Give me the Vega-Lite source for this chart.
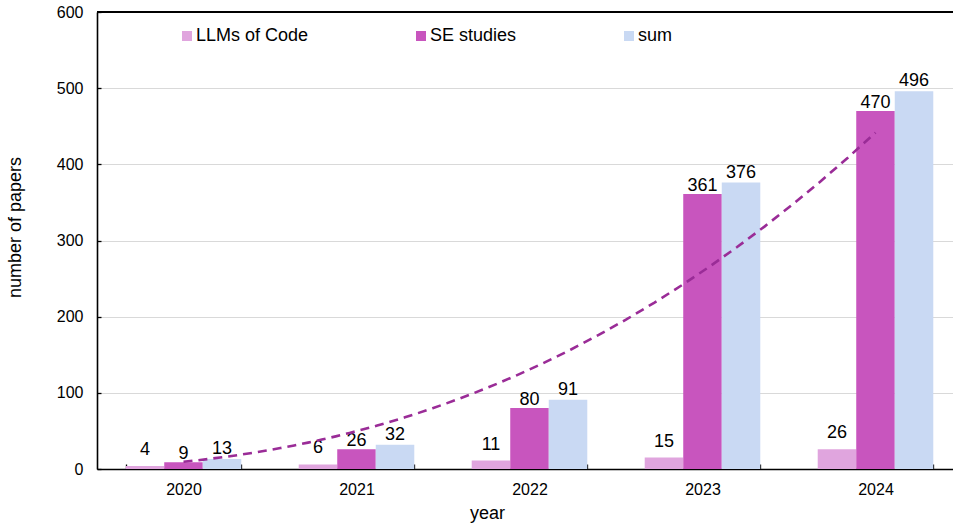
{
  "$schema": "https://vega.github.io/schema/vega-lite/v6.json",
  "width": 856,
  "height": 457,
  "autosize": {"type": "none"},
  "padding": {"left": 97, "top": 12, "right": 0, "bottom": 54},
  "config": {
    "view": {"stroke": null},
    "font": "Liberation Sans",
    "text": {"font": "Liberation Sans"}
  },
  "data": {
    "values": [
      {"year": "2020", "idx": 1, "series": "LLMs of Code", "value": 4},
      {"year": "2020", "idx": 1, "series": "SE studies", "value": 9},
      {"year": "2020", "idx": 1, "series": "sum", "value": 13},
      {"year": "2021", "idx": 2, "series": "LLMs of Code", "value": 6},
      {"year": "2021", "idx": 2, "series": "SE studies", "value": 26},
      {"year": "2021", "idx": 2, "series": "sum", "value": 32},
      {"year": "2022", "idx": 3, "series": "LLMs of Code", "value": 11},
      {"year": "2022", "idx": 3, "series": "SE studies", "value": 80},
      {"year": "2022", "idx": 3, "series": "sum", "value": 91},
      {"year": "2023", "idx": 4, "series": "LLMs of Code", "value": 15},
      {"year": "2023", "idx": 4, "series": "SE studies", "value": 361},
      {"year": "2023", "idx": 4, "series": "sum", "value": 376},
      {"year": "2024", "idx": 5, "series": "LLMs of Code", "value": 26},
      {"year": "2024", "idx": 5, "series": "SE studies", "value": 470},
      {"year": "2024", "idx": 5, "series": "sum", "value": 496}
    ]
  },
  "layer": [
    {
      "mark": {"type": "bar"},
      "encoding": {
        "x": {
          "field": "year",
          "type": "ordinal",
          "scale": {"range": [0, 865], "paddingInner": 0.332, "paddingOuter": 0.166},
          "axis": {
            "title": "year",
            "labelAngle": 0,
            "tickBand": "extent",
            "tickSize": -5,
            "tickColor": "#000",
            "tickWidth": 1.3,
            "domainColor": "#000",
            "domainWidth": 1.6,
            "labelFontSize": 16,
            "labelColor": "#000",
            "labelPadding": 17,
            "titleFontSize": 18,
            "titleFontWeight": "normal",
            "titleColor": "#000",
            "titleBaseline": "alphabetic",
            "titleX": 390,
            "titleY": 49,
            "grid": false
          }
        },
        "xOffset": {
          "field": "series",
          "sort": ["LLMs of Code", "SE studies", "sum"],
          "scale": {"paddingInner": 0, "paddingOuter": 0}
        },
        "y": {
          "field": "value",
          "type": "quantitative",
          "scale": {"domain": [0, 600]},
          "axis": {
            "title": "number of papers",
            "values": [0, 100, 200, 300, 400, 500, 600],
            "tickSize": -4,
            "tickColor": "#000",
            "tickWidth": 1.3,
            "domainColor": "#000",
            "domainWidth": 1.6,
            "labelFontSize": 16,
            "labelColor": "#000",
            "labelPadding": 18,
            "titleFontSize": 18,
            "titleFontWeight": "normal",
            "titleColor": "#000",
            "titlePadding": 32,
            "titleY": 215,
            "gridColor": "#D9D9D9",
            "gridWidth": 1.2
          }
        },
        "color": {
          "field": "series",
          "type": "nominal",
          "scale": {
            "domain": ["LLMs of Code", "SE studies", "sum"],
            "range": ["#E0A5DE", "#C855BE", "#C9D9F3"]
          },
          "legend": {
            "title": null,
            "orient": "none",
            "legendX": 81,
            "legendY": 15,
            "direction": "horizontal",
            "symbolType": "square",
            "symbolSize": 100,
            "symbolStrokeWidth": 0,
            "labelFontSize": 18,
            "labelColor": "#000",
            "labelOffset": 0,
            "columnPadding": 103,
            "padding": 0
          }
        }
      }
    },
    {
      "transform": [{"filter": "datum.series === 'LLMs of Code'"}],
      "mark": {"type": "text", "baseline": "alphabetic", "dy": -11, "fontSize": 18, "color": "#000"},
      "encoding": {
        "x": {"field": "year", "type": "ordinal", "scale": {"range": [0, 865], "paddingInner": 0.332, "paddingOuter": 0.166}, "axis": null},
        "xOffset": {"field": "series", "sort": ["LLMs of Code", "SE studies", "sum"], "scale": {"domain": ["LLMs of Code", "SE studies", "sum"], "paddingInner": 0, "paddingOuter": 0}},
        "y": {"field": "value", "type": "quantitative"},
        "text": {"field": "value", "type": "quantitative"}
      }
    },
    {
      "transform": [{"filter": "datum.series === 'SE studies'"}],
      "mark": {"type": "text", "baseline": "alphabetic", "dy": -3, "fontSize": 18, "color": "#000"},
      "encoding": {
        "x": {"field": "year", "type": "ordinal", "scale": {"range": [0, 865], "paddingInner": 0.332, "paddingOuter": 0.166}, "axis": null},
        "xOffset": {"field": "series", "sort": ["LLMs of Code", "SE studies", "sum"], "scale": {"domain": ["LLMs of Code", "SE studies", "sum"], "paddingInner": 0, "paddingOuter": 0}},
        "y": {"field": "value", "type": "quantitative"},
        "text": {"field": "value", "type": "quantitative"}
      }
    },
    {
      "transform": [{"filter": "datum.series === 'sum'"}],
      "mark": {"type": "text", "baseline": "alphabetic", "dy": -5, "fontSize": 18, "color": "#000"},
      "encoding": {
        "x": {"field": "year", "type": "ordinal", "scale": {"range": [0, 865], "paddingInner": 0.332, "paddingOuter": 0.166}, "axis": null},
        "xOffset": {"field": "series", "sort": ["LLMs of Code", "SE studies", "sum"], "scale": {"domain": ["LLMs of Code", "SE studies", "sum"], "paddingInner": 0, "paddingOuter": 0}},
        "y": {"field": "value", "type": "quantitative"},
        "text": {"field": "value", "type": "quantitative"}
      }
    },
    {
      "mark": {"type": "rule", "color": "#000", "strokeWidth": 1.6},
      "encoding": {
        "y": {"datum": 600, "type": "quantitative"}
      }
    },
    {
      "transform": [
        {"filter": "datum.series === 'sum'"},
        {"regression": "value", "on": "idx", "method": "pow"}
      ],
      "mark": {"type": "line", "strokeDash": [9, 6], "color": "#9A2C97", "strokeWidth": 2.6},
      "encoding": {
        "x": {
          "field": "idx",
          "type": "quantitative",
          "scale": {"domain": [0.5, 5.5], "range": [0, 865], "nice": false, "zero": false},
          "axis": null
        },
        "y": {"field": "value", "type": "quantitative"}
      }
    }
  ],
  "resolve": {"scale": {"x": "independent"}}
}
